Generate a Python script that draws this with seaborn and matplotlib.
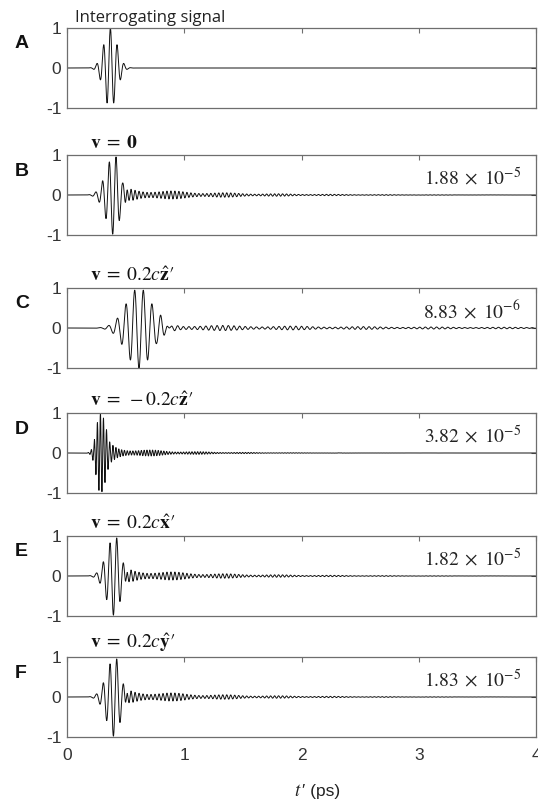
import numpy as np
import pandas as pd
import matplotlib
matplotlib.use('Agg')
import matplotlib.pyplot as plt
import seaborn as sns

# Panel texts
PANEL_LABELS = ['A', 'B', 'C', 'D', 'E', 'F']
TITLES = ['Interrogating signal',
          r'$\mathbf{v}\;=\;\mathbf{0}$',
          r'$\mathbf{v}\;=\;0.2c\hat{\mathbf{z}}$′',
          r'$\mathbf{v}\;=\;-0.2c\hat{\mathbf{z}}$′',
          r'$\mathbf{v}\;=\;0.2c\hat{\mathbf{x}}$′',
          r'$\mathbf{v}\;=\;0.2c\hat{\mathbf{y}}$′']
NORMS = [None, r'$1.88\;\times\;10^{-5}$', r'$8.83\;\times\;10^{-6}$',
         r'$3.82\;\times\;10^{-5}$', r'$1.82\;\times\;10^{-5}$', r'$1.83\;\times\;10^{-5}$']

# Waveform parameters (ps)
PULSE_CENTER = [0.37, 0.404, 0.614, 0.285, 0.41, 0.41]
PULSE_PERIOD = [0.058, 0.058, 0.074, 0.026, 0.058, 0.058]
PULSE_PHASE = [0.0, -0.25, 0.5, 0.0, -0.25, -0.25]   # in cycles
PULSE_RISE = [0.055, 0.07, 0.11, 0.035, 0.07, 0.07]
PULSE_FALL = [0.055, 0.045, 0.11, 0.05, 0.045, 0.045]
TAIL_START = [None, 0.47, 0.74, 0.34, 0.47, 0.47]
TAIL_AMP = [0.0, 0.18, 0.085, 0.16, 0.18, 0.18]
TAIL_PERIOD = [0.03, 0.034, 0.048, 0.024, 0.034, 0.034]
TAIL_DECAY = [1.0, 0.75, 2.0, 0.5, 0.75, 0.75]
BEAT_PERIOD = [1.0, 0.45, 0.6, 0.4, 0.45, 0.45]

T = np.linspace(0, 4, 9000)


def waveform(i):
    c = PULSE_CENTER[i]
    width = np.where(T < c, PULSE_RISE[i], PULSE_FALL[i])
    env = np.exp(-(T - c) ** 2 / (2 * width ** 2))
    y = env * np.cos(2 * np.pi * ((T - c) / PULSE_PERIOD[i] + PULSE_PHASE[i]))
    if TAIL_START[i] is not None:
        dt = T - TAIL_START[i]
        onset = np.clip(dt / 0.04, 0, 1)
        beat = (1 + 0.35 * np.cos(2 * np.pi * dt / BEAT_PERIOD[i])) / 1.35
        tail = TAIL_AMP[i] * onset * np.exp(-np.clip(dt, 0, None) / TAIL_DECAY[i]) * beat
        y = y + tail * np.sin(2 * np.pi * dt / TAIL_PERIOD[i])
    return y


sns.set_theme(style='white')
plt.rcParams['font.family'] = ['Liberation Sans', 'DejaVu Sans']
plt.rcParams['mathtext.fontset'] = 'stix'
plt.rcParams['axes.unicode_minus'] = False
serif = ['STIXGeneral', 'DejaVu Serif']

fig = plt.figure(figsize=(5.38, 8.07), dpi=100)
W, H = 538, 807
tops = [28, 155, 288, 413, 536, 657]
left, right, height = 67, 536, 80

edge = '#6e6e6e'
for i, top in enumerate(tops):
    ax = fig.add_axes([left / W, 1 - (top + height) / H, (right - left) / W, height / H])
    df = pd.DataFrame({'t': T, 'y': waveform(i)})
    sns.lineplot(data=df, x='t', y='y', ax=ax, color='#111111', linewidth=0.7,
                 estimator=None, sort=False)
    ax.set_xlim(0, 4)
    ax.set_ylim(-1, 1)
    ax.set_xticks([0, 1, 2, 3, 4])
    ax.set_yticks([-1, 0, 1])
    ax.set_yticklabels(['-1', '0', '1'])
    ax.set_xlabel('')
    ax.set_ylabel('')
    ax.tick_params(direction='in', length=3.5, width=0.8, color=edge,
                   top=True, right=True, labelsize=12.5, labelcolor='#333333', pad=4)
    ax.tick_params(axis='x', pad=8)
    for s in ax.spines.values():
        s.set_color(edge)
        s.set_linewidth(0.9)
    if i < 5:
        ax.set_xticklabels([])
    else:
        ax.text(0.5, -0.68, r'$t$', transform=ax.transAxes, ha='right', va='center',
                fontsize=13.5, color='#222222')
        ax.text(0.5, -0.68, '′ (ps)', transform=ax.transAxes, ha='left', va='center',
                fontsize=12.5, color='#222222')
    if i == 0:
        ax.text(0.017, 1.03, TITLES[i], transform=ax.transAxes, ha='left', va='bottom',
                fontsize=12, color='#222222', family=['Open Sans', 'DejaVu Sans'])
    else:
        ax.text(0.05, 1.04, TITLES[i], transform=ax.transAxes, ha='left', va='bottom',
                fontsize=14, color='#111111', family=serif)
    if NORMS[i]:
        ax.text(0.968, 0.71, NORMS[i], transform=ax.transAxes, ha='right', va='center',
                fontsize=14, color='#222222')
    fig.text(15 / W, 1 - (top + 16) / H, PANEL_LABELS[i], fontsize=14, fontweight='bold',
             ha='left', va='center', color='#111111')

fig.savefig('out.png', dpi=100)
